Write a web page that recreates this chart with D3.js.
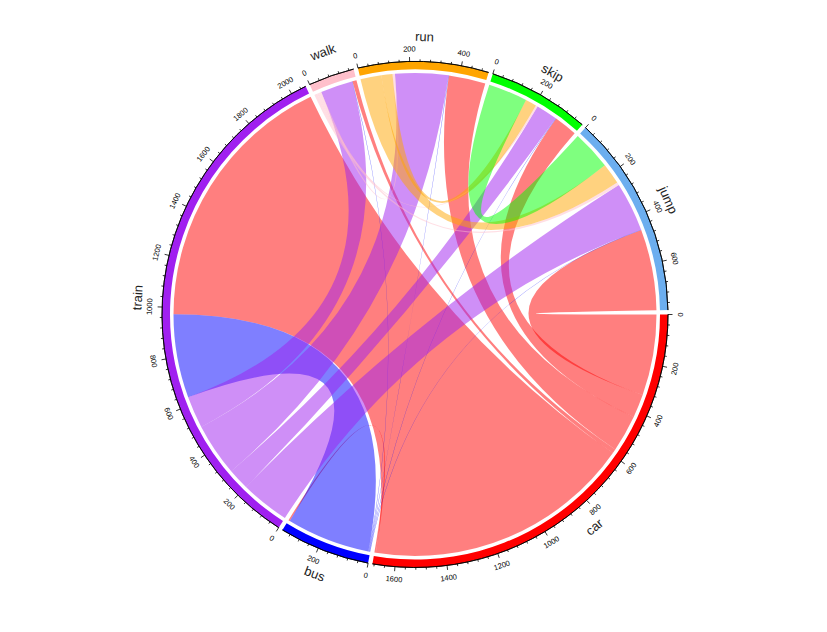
<!DOCTYPE html>
<html><head><meta charset="utf-8">
<script src="https://cdn.jsdelivr.net/npm/d3@7"></script>
<style>body{margin:0;background:#fff} svg{display:block}</style>
</head><body>
<svg id="chart" width="827" height="632"></svg>
<script>
// ---- data ----
const sectors = ["car", "bus", "train", "walk", "run", "skip", "jump"];
const sectorColors = ["#FF0000", "#0000FF", "#A020F0", "#FFC0CB", "#FFA500", "#00FF00", "#6CAEEF"];
const targets = ["bus", "train", "walk", "run", "skip", "jump"];
const carFlows   = [6, 1089, 17, 150, 95, 330];
const busFlows   = [0, 340, 2, 2, 2, 2];
const trainFlows = [0, 0, 130, 215, 87, 200];
const walkFlows  = [0, 0, 0, 10, 8, 12];
const runFlows   = [0, 0, 0, 0, 45, 85];
const skipFlows  = [0, 0, 0, 0, 0, 160];
const flowRows = {car: carFlows, bus: busFlows, train: trainFlows, walk: walkFlows, run: runFlows, skip: skipFlows};
const majorTickStep = 200;
const minorTickStep = 40;

// ---- layout ----
const W = 827, H = 632, cx = 415, cy = 314.5;
const rTrackIn = 245, rTrackOut = 253, rLink = 241.5;
const gapDeg = 1;
const n = sectors.length;

const links = [];
Object.keys(flowRows).forEach(src => {
  flowRows[src].forEach((v, j) => {
    if (v > 0) links.push({source: src, target: targets[j], value: v});
  });
});
const si = s => sectors.indexOf(s);
const totals = sectors.map(s => d3.sum(links.filter(l => l.source === s || l.target === s), l => l.value));
const grand = d3.sum(totals);
const degPerUnit = (360 - n * gapDeg) / grand;

const sectorScale = {};
let cur = 0;
sectors.forEach((s, i) => {
  const span = totals[i] * degPerUnit;
  sectorScale[s] = d3.scaleLinear().domain([0, totals[i]]).range([cur, cur + span]);
  cur += span + gapDeg;
});

// place link ends inside each sector: outgoing first, then incoming,
// each ordered by the other sector going counter-clockwise
sectors.forEach((s, i) => {
  const key = other => (i - si(other) + n) % n;
  const outs = links.filter(l => l.source === s).sort((a, b) => key(a.target) - key(b.target));
  const ins = links.filter(l => l.target === s).sort((a, b) => key(a.source) - key(b.source));
  let pos = 0;
  outs.forEach(l => { l.s0 = pos; pos += l.value; l.s1 = pos; });
  ins.forEach(l => { l.t0 = pos; pos += l.value; l.t1 = pos; });
});

const toRad = deg => (deg + 90) * Math.PI / 180; // screen-clockwise-from-3-o'clock -> d3 angle

const svg = d3.select("#chart");
const g = svg.append("g").attr("transform", `translate(${cx},${cy})`);

// links
const ribbon = d3.ribbon().radius(rLink);
g.append("g").selectAll("path").data(links).join("path")
  .attr("d", l => ribbon({
    source: {startAngle: toRad(sectorScale[l.source](l.s0)), endAngle: toRad(sectorScale[l.source](l.s1))},
    target: {startAngle: toRad(sectorScale[l.target](l.t0)), endAngle: toRad(sectorScale[l.target](l.t1))}
  }))
  .attr("fill", l => sectorColors[si(l.source)])
  .attr("fill-opacity", 0.5)
  .attr("stroke", "none");

// tracks
const trackArc = d3.arc().innerRadius(rTrackIn).outerRadius(rTrackOut);
g.append("g").selectAll("path").data(sectors).join("path")
  .attr("d", s => trackArc({startAngle: toRad(sectorScale[s].range()[0]), endAngle: toRad(sectorScale[s].range()[1])}))
  .attr("fill", (s, i) => sectorColors[i]);

// axes
const axisArc = d3.arc().innerRadius(rTrackOut).outerRadius(rTrackOut);
const axes = g.append("g");
const facing = deg => {
  const a = ((deg % 360) + 360) % 360;
  return (a > 0 && a < 180) ? a - 90 : a + 90;
};
sectors.forEach((s, i) => {
  const sc = sectorScale[s];
  axes.append("path")
    .attr("d", axisArc({startAngle: toRad(sc.range()[0]), endAngle: toRad(sc.range()[1])}))
    .attr("fill", "none").attr("stroke", "#000").attr("stroke-width", 0.8);
  const ticks = d3.range(0, totals[i] + 0.001, minorTickStep);
  ticks.forEach(v => {
    const major = v % majorTickStep === 0;
    const a = sc(v) * Math.PI / 180;
    const len = major ? 4.5 : 2.2;
    axes.append("line")
      .attr("x1", rTrackOut * Math.cos(a)).attr("y1", rTrackOut * Math.sin(a))
      .attr("x2", (rTrackOut + len) * Math.cos(a)).attr("y2", (rTrackOut + len) * Math.sin(a))
      .attr("stroke", "#000").attr("stroke-width", 0.8);
    if (major) {
      const rl = 265.5;
      axes.append("text")
        .attr("transform", `translate(${rl * Math.cos(a)},${rl * Math.sin(a)}) rotate(${facing(sc(v))})`)
        .attr("text-anchor", "middle").attr("dominant-baseline", "central")
        .attr("font-family", "Liberation Sans, Arial, sans-serif").attr("font-size", 7.5)
        .attr("fill", "#000").text(v);
    }
  });
});

// sector names
g.append("g").selectAll("text").data(sectors).join("text")
  .attr("transform", s => {
    const mid = d3.mean(sectorScale[s].range());
    const a = mid * Math.PI / 180, r = 278;
    return `translate(${r * Math.cos(a)},${r * Math.sin(a)}) rotate(${facing(mid)})`;
  })
  .attr("text-anchor", "middle").attr("dominant-baseline", "central")
  .attr("font-family", "Liberation Sans, Arial, sans-serif").attr("font-size", 13)
  .attr("fill", "#222").text(s => s);
</script>
</body></html>
